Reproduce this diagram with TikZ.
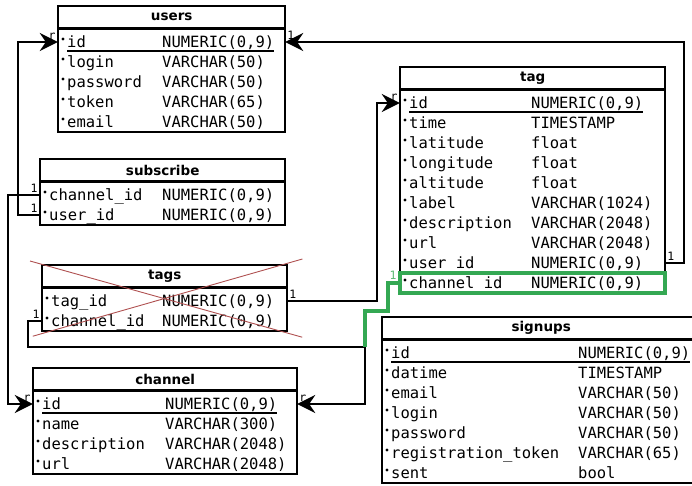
\documentclass[tikz,border=0pt]{standalone}
\usepackage{fontspec}
\setmainfont{DejaVu Sans}
\setsansfont{DejaVu Sans}
\setmonofont{DejaVu Sans Mono}
\usetikzlibrary{arrows.meta}
\definecolor{fkgreen}{RGB}{52,168,83}
\definecolor{strikered}{RGB}{175,80,80}
\tikzset{
    %Define standard arrow tip
    >={Stealth[length=18pt,width=18pt,inset=6pt]},
    %Define styles for the table parts
    tabtitle/.style={
           rectangle, inner sep=0pt,
           minimum height=22pt,
           font=\sffamily\bfseries\fontsize{13.5}{16}\selectfont},
    tabrow/.style={
           rectangle, inner sep=0pt,
           minimum height=20pt},
    tabline/.style={draw=black, line width=2.4pt},
    field/.style={
           anchor=base west, inner sep=0pt,
           font=\ttfamily\fontsize{15.5}{18}\selectfont},
    keyline/.style={line width=1.2pt},
    card/.style={inner sep=1pt, font=\ttfamily\fontsize{11.5}{13}\selectfont},
    % Define arrow styles
    fk/.style={->, line width=2.4pt},
    fknew/.style={draw=fkgreen, line width=4.5pt},
    strike/.style={draw=strikered, line width=0.9pt}
}

% #1 name, #2 left, #3 right, #4 top, #5 type column, #6 title, #7 fields
\newcommand\dbtable[7]{%
  \node[tabtitle, minimum width={#3-#2}, anchor=north west] (#1) at (#2,#4) {#6};
  \foreach \fname/\ftype [count=\i] in {#7} {
    \node[tabrow, minimum width={#3-#2}] (#1-\i) at ({(#2+#3)/2},{#4+16+20*\i}) {};
    \fill (#2+5,{#4+13+20*\i}) circle (1.7);
    \node[field] (#1-\i-n) at (#2+9,{#4+21+20*\i}) {\fname};
    \node[field] (#1-\i-t) at (#5,{#4+21+20*\i}) {\ftype};
    \xdef\lastrow{\i}
  }
  \draw[tabline] (#1.north west) rectangle (#1-\lastrow.south east);
  \draw[tabline] (#1.south west) -- (#1.south east);
}
% underline the primary key
\newcommand\keyfield[1]{%
  \draw[keyline] ([yshift=-4pt]#1-1-n.base west) -- ([yshift=-4pt]#1-1-t.base east);
}

\begin{document}
\begin{tikzpicture}[x=1pt, y=-1pt]
\useasboundingbox (0,0) rectangle (692,485);
\clip (0,0) rectangle (692,485);
 %tables
\dbtable{users}{58}{285}{6}{162}{users}{id/{NUMERIC(0,9)}, login/{VARCHAR(50)},
  password/{VARCHAR(50)}, token/{VARCHAR(65)}, email/{VARCHAR(50)}}
\dbtable{subscribe}{40}{285}{159}{162}{subscribe}{channel\_id/{NUMERIC(0,9)},
  user\_id/{NUMERIC(0,9)}}
\dbtable{tags}{42}{287}{265}{162}{tags}{tag\_id/{NUMERIC(0,9)},
  channel\_id/{NUMERIC(0,9)}}
\dbtable{channel}{33}{297}{368}{165}{channel}{id/{NUMERIC(0,9)}, name/{VARCHAR(300)},
  description/{VARCHAR(2048)}, url/{VARCHAR(2048)}}
\dbtable{tag}{400}{665}{67}{531}{tag}{id/{NUMERIC(0,9)}, time/{TIMESTAMP},
  latitude/{float}, longitude/{float}, altitude/{float}, label/{VARCHAR(1024)},
  description/{VARCHAR(2048)}, url/{VARCHAR(2048)}, user id/{NUMERIC(0,9)},
  channel id/{NUMERIC(0,9)}}
\dbtable{signups}{382}{700}{317}{578}{signups}{id/{NUMERIC(0,9)}, datime/{TIMESTAMP},
  email/{VARCHAR(50)}, login/{VARCHAR(50)}, password/{VARCHAR(50)},
  registration\_token/{VARCHAR(65)}, sent/{bool}}
\keyfield{users}
\keyfield{tag}
\keyfield{channel}
\keyfield{signups}
 %references
\draw[fk] (tag-9.east) node[card, above right] {1} -- ++(19,0)
    |- (users-1.east) node[card, above right] {1};
\draw[fk] (subscribe-2.west) node[card, above left] {1} -- ++(-22,0)
    |- (users-1.west) node[card, above left] {r};
\draw[fk] (subscribe-1.west) node[card, above left] {1} -- ++(-32,0)
    |- (channel-1.west) node[card, above left] {r};
\draw[fk] (tags-1.east) node[card, above right] {1} -- ++(90,0)
    |- (tag-1.west) node[card, above left] {r};
\coordinate (joint) at (365,347);
\draw[fk] (tags-2.west) node[card, above left] {1} -- ++(-14,0)
    |- (joint) |- (channel-1.east) node[card, above right] {r};
\draw[fknew] (tag-10.west) node[card, text=fkgreen!80, above left] {1}
    -- ++(-12,0) -- ++(0,28) -| (joint);
\draw[fknew, line width=3.5pt] (tag-10.north west) rectangle (tag-10.south east);
 %dropped table
\draw[strike] ([shift={(-12,-4)}]tags.north west) -- ([shift={(15,6)}]tags-2.south east);
\draw[strike] ([shift={(15,-6)}]tags.north east) -- ([shift={(-9,5)}]tags-2.south west);
\end{tikzpicture}
\end{document}
